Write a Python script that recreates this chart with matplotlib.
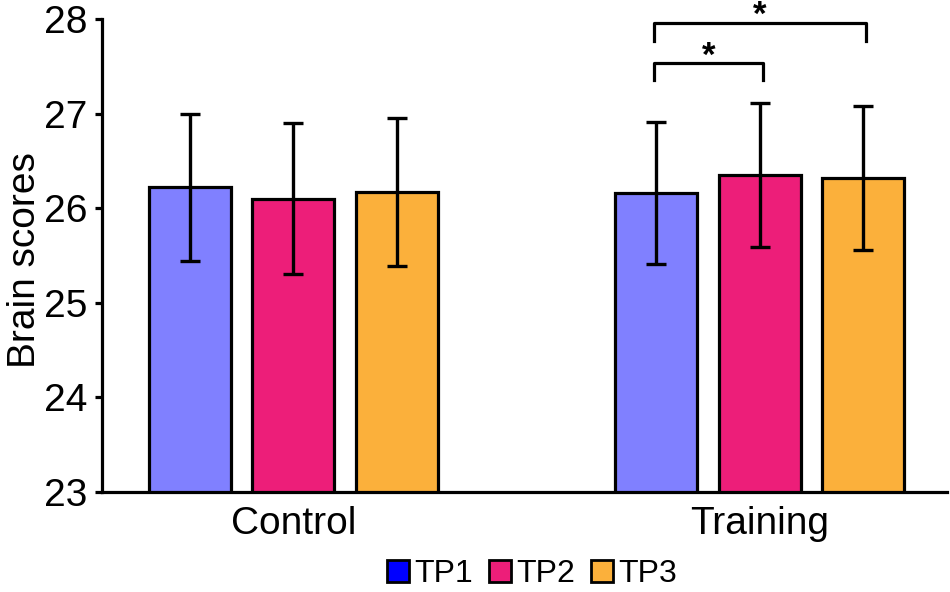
import matplotlib.pyplot as plt
from matplotlib.patches import Patch

plt.rcParams['font.family'] = ['Liberation Sans', 'DejaVu Sans']

# data
groups = ["Control", "Training"]
timepoints = ["TP1", "TP2", "TP3"]
means = {
    "TP1": [26.22, 26.16],
    "TP2": [26.10, 26.35],
    "TP3": [26.17, 26.32],
}
errors = {
    "TP1": [0.78, 0.75],
    "TP2": [0.80, 0.76],
    "TP3": [0.78, 0.76],
}
bar_colors = ["#8080ff", "#ed1e79", "#fbb03b"]
legend_colors = ["#0000ff", "#ed1e79", "#fbb03b"]
group_starts = [0, 4.5]

fig = plt.figure(figsize=(9.5, 5.92), dpi=100)
ax = fig.add_axes([0.107, 0.169, 0.89, 0.799])

centers = {}
for i, tp in enumerate(timepoints):
    xs = [g + i for g in group_starts]
    centers[tp] = xs
    ax.bar(xs, means[tp], bottom=0, width=0.79, color=bar_colors[i],
           edgecolor="black", linewidth=2.3, zorder=2)
    ax.errorbar(xs, means[tp], yerr=errors[tp], fmt="none", ecolor="black",
                elinewidth=2.4, capsize=7, capthick=2.4, zorder=3)

ax.set_ylim(23, 28)
ax.set_xlim(-0.85, 7.31)
ax.set_yticks([23, 24, 25, 26, 27, 28])
ax.set_xticks([g + 1 for g in group_starts])
ax.set_xticklabels(groups)
ax.tick_params(axis="y", labelsize=28, width=2.3, length=5, pad=5, direction="out")
ax.tick_params(axis="x", labelsize=28, length=0, pad=10)
ax.set_ylabel("Brain scores", fontsize=28)
ax.yaxis.set_label_coords(-0.069, 0.49)
for s in ["top", "right"]:
    ax.spines[s].set_visible(False)
for s in ["left", "bottom"]:
    ax.spines[s].set_linewidth(2.3)

# significance brackets
def bracket(x1, x2, y, drop, label):
    ax.plot([x1, x1, x2, x2], [y - drop, y, y, y - drop], color="black",
            lw=2.3, clip_on=False, zorder=4)
    ax.text((x1 + x2) / 2, y + 0.075, label, ha="center", va="center",
            fontsize=25, fontweight="bold", clip_on=False)

bracket(centers["TP1"][1] - 0.02, centers["TP2"][1] + 0.03, 27.53, 0.18, "*")
bracket(centers["TP1"][1] - 0.02, centers["TP3"][1] + 0.03, 27.96, 0.19, "*")

handles = [Patch(facecolor=c, edgecolor="black", linewidth=2) for c in legend_colors]
fig.legend(handles, timepoints, loc="center", bbox_to_anchor=(0.56, 0.03),
           ncol=3, frameon=False, fontsize=23, handlelength=0.7, handleheight=0.7,
           handletextpad=0.15, columnspacing=0.5, borderpad=0)

fig.savefig("out.png", dpi=100)
